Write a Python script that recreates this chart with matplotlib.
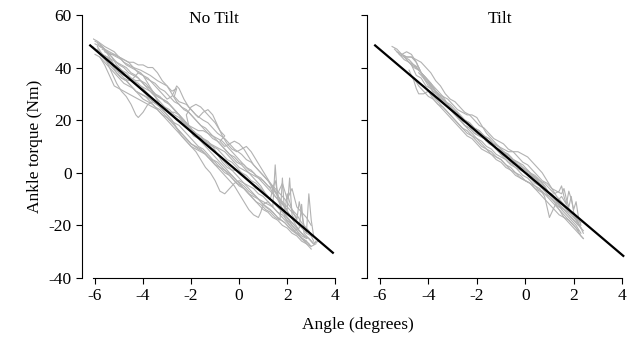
import matplotlib

matplotlib.use("Agg")
import matplotlib.pyplot as plt

plt.rcParams["font.family"] = ["Liberation Serif", "DejaVu Serif"]
plt.rcParams["font.size"] = 12.5
plt.rcParams["axes.unicode_minus"] = False

# regression line (same fit shown in both panels)
fit_x = [-6.2, 3.9]
fit_y_notilt = [48.4, -30.4]
fit_x_tilt = [-6.2, 4.05]
fit_y_tilt = [48.4, -31.6]

# individual trials, No Tilt
notilt_x = [
    [-6.1, -5.9, -5.6, -5.4, -5.2, -5.0, -4.8, -4.6, -4.4, -4.1, -3.9, -3.7, -3.4, -3.2, -3.0, -2.8, -2.6, -2.7, -2.5, -2.2, -2.0, -1.8, -1.5, -1.3, -1.1, -0.9, -0.6, -0.4, -0.2, 0.1, 0.3, 0.5, 0.8, 1.0, 1.2, 1.5, 1.7, 1.9, 2.2, 2.4, 2.6, 2.9, 3.1],
    [-5.9, -5.7, -5.5, -5.3, -5.1, -4.9, -4.7, -4.5, -4.3, -4.2, -4.0, -3.8, -3.6, -3.3, -3.0, -2.8, -2.6, -2.4, -2.2, -2.0, -1.7, -1.5, -1.3, -1.0, -0.8, -0.6, -0.3, -0.1, 0.2, 0.4, 0.7, 0.9, 1.1, 1.4, 1.6, 1.9, 2.1, 2.4, 2.6, 2.9],
    [-6.0, -5.8, -5.6, -5.4, -5.2, -5.0, -4.8, -4.6, -4.4, -4.2, -4.0, -3.8, -3.6, -3.4, -3.2, -3.0, -2.8, -2.6, -2.5, -2.3, -2.1, -1.9, -1.7, -1.5, -1.3, -1.1, -0.9, -0.7, -0.5, -0.3, -0.1, 0.1, 0.3, 0.5, 0.7, 0.9, 1.1, 1.3, 1.5, 1.7, 1.9, 2.1, 2.3, 2.5],
    [-5.8, -5.6, -5.4, -5.2, -5.0, -4.8, -4.6, -4.4, -4.2, -4.0, -3.8, -3.6, -3.4, -3.2, -3.0, -2.8, -2.6, -2.4, -2.2, -2.0, -1.8, -1.6, -1.4, -1.2, -1.0, -0.8, -0.6, -0.4, -0.2, 0.0, 0.2, 0.4, 0.6, 0.8, 1.0, 1.3, 1.6, 1.9, 2.2, 2.5, 2.8, 3.0],
    [-5.9, -5.7, -5.5, -5.3, -5.1, -4.9, -4.7, -4.5, -4.3, -4.1, -3.9, -3.7, -3.5, -3.3, -3.1, -2.9, -2.7, -2.5, -2.3, -2.1, -2.2, -2.0, -1.8, -1.6, -1.4, -1.2, -1.0, -0.8, -0.6, -0.8, -0.6, -0.4, -0.2, 0.0, 0.2, 0.4, 0.6, 0.8, 1.0, 1.2, 1.4, 1.6, 1.8, 2.0, 2.2, 2.4],
    [-6.0, -5.8, -5.6, -5.4, -5.2, -5.0, -4.8, -4.6, -4.4, -4.2, -4.0, -3.8, -3.6, -3.4, -3.2, -3.0, -2.8, -2.6, -2.4, -2.2, -2.0, -1.8, -1.6, -1.4, -1.2, -1.0, -0.8, -0.6, -0.4, -0.2, 0.0, 0.2, 0.4, 0.6, 0.8, 1.0, 1.2, 1.4, 1.6, 1.8, 2.0, 2.2, 2.4, 2.6, 2.8, 3.0, 3.2],
    [-5.7, -5.5, -5.3, -5.1, -4.9, -4.7, -4.5, -4.3, -4.1, -3.9, -3.7, -3.5, -3.3, -3.1, -2.9, -2.7, -2.5, -2.3, -2.1, -1.9, -1.7, -1.5, -1.3, -1.1, -0.9, -0.7, -0.5, -0.3, -0.1, 0.1, 0.3, 0.5, 0.7, 0.9, 1.1, 1.3, 1.4, 1.5, 1.7, 1.9, 2.0, 2.2, 2.4, 2.5, 2.7, 2.8, 2.9, 3.0, 3.1],
    [-6.0, -5.8, -5.6, -5.4, -5.2, -5.0, -4.8, -4.6, -4.4, -4.2, -4.0, -3.8, -3.6, -3.4, -3.2, -3.0, -2.8, -2.6, -2.4, -2.2, -2.0, -1.8, -1.6, -1.4, -1.2, -1.0, -0.8, -0.6, -0.4, -0.2, 0.0, 0.2, 0.4, 0.6, 0.8, 1.0, 1.2, 1.4, 1.5, 1.6, 1.8, 2.0, 2.2, 2.4, 2.6, 2.8],
    [-5.8, -5.6, -5.4, -5.2, -5.0, -4.8, -4.6, -4.4, -4.2, -4.0, -3.8, -3.6, -3.4, -3.2, -3.0, -2.8, -2.6, -2.4, -2.2, -2.0, -1.8, -1.6, -1.4, -1.2, -1.0, -0.8, -0.6, -0.4, -0.2, 0.0, 0.2, 0.4, 0.6, 0.8, 0.9, 1.0, 1.2, 1.4, 1.6, 1.8, 2.0, 2.2, 2.4, 2.6, 2.8],
    [-5.6, -5.4, -5.2, -5.0, -4.8, -4.6, -4.4, -4.2, -4.0, -3.8, -3.6, -3.4, -3.2, -3.0, -2.8, -2.6, -2.4, -2.2, -2.0, -1.8, -1.6, -1.4, -1.2, -1.0, -0.8, -0.6, -0.4, -0.2, 0.0, 0.2, 0.4, 0.6, 0.8, 1.0, 1.2, 1.4, 1.6, 1.8, 2.0, 2.2, 2.4, 2.6, 2.8, 3.0],
    [-6.1, -5.9, -5.7, -5.5, -5.3, -5.1, -4.9, -4.7, -4.5, -4.3, -4.1, -3.9, -3.7, -3.5, -3.3, -3.1, -2.9, -2.7, -2.5, -2.3, -2.1, -1.9, -1.7, -1.5, -1.3, -1.1, -0.9, -0.7, -0.5, -0.3, -0.1, 0.1, 0.3, 0.5, 0.7, 0.9, 1.1, 1.3, 1.5, 1.7, 1.9, 2.1, 2.3, 2.5, 2.7, 2.9, 3.1, 3.3],
    [-5.9, -5.7, -5.5, -5.3, -5.1, -4.9, -4.7, -4.5, -4.3, -4.1, -3.9, -3.7, -3.5, -3.3, -3.1, -2.9, -2.7, -2.5, -2.3, -2.1, -1.9, -1.7, -1.5, -1.3, -1.1, -0.9, -0.7, -0.5, -0.3, -0.1, 0.1, 0.3, 0.5, 0.7, 0.9, 1.1, 1.3, 1.5, 1.7, 1.9, 2.1, 2.3, 2.5, 2.7, 2.9, 3.1],
    [-5.8, -5.6, -5.4, -5.2, -5.0, -4.8, -4.6, -4.4, -4.2, -4.0, -3.8, -3.6, -3.4, -3.2, -3.0, -2.8, -2.6, -2.4, -2.2, -2.0, -1.8, -1.6, -1.4, -1.2, -1.0, -0.8, -0.6, -0.4, -0.2, 0.0, 0.2, 0.4, 0.6, 0.8, 1.0, 1.2, 1.4, 1.6, 1.8, 2.0, 2.1, 2.2, 2.4, 2.6, 2.8, 3.0],
    [-6.0, -5.8, -5.6, -5.4, -5.2, -5.0, -4.8, -4.6, -4.4, -4.2, -4.0, -3.8, -3.6, -3.4, -3.2, -3.0, -2.8, -2.6, -2.4, -2.2, -2.0, -1.8, -1.6, -1.4, -1.2, -1.0, -0.8, -0.6, -0.4, -0.2, 0.0, 0.2, 0.4, 0.6, 0.8, 1.0, 1.2, 1.4, 1.6, 1.8, 2.0, 2.2, 2.4, 2.6, 2.8, 3.0],
    [-5.7, -5.5, -5.3, -5.1, -4.9, -4.7, -4.5, -4.3, -4.1, -3.9, -3.7, -3.5, -3.3, -3.1, -2.9, -2.7, -2.5, -2.3, -2.1, -1.9, -1.7, -1.5, -1.3, -1.1, -0.9, -0.7, -0.5, -0.3, -0.1, 0.1, 0.3, 0.5, 0.7, 0.9, 1.1, 1.3, 1.5, 1.7, 1.9, 2.1, 2.3, 2.5, 2.7],
    [-5.5, -5.3, -5.1, -4.9, -4.7, -4.5, -4.3, -4.1, -3.9, -3.7, -3.5, -3.3, -3.1, -2.9, -2.7, -2.5, -2.3, -2.1, -1.9, -1.7, -1.5, -1.3, -1.1, -0.9, -0.7, -0.5, -0.3, -0.1, 0.1, 0.3, 0.5, 0.7, 0.9, 1.1, 1.3, 1.5, 1.7, 1.8, 1.9, 2.1, 2.3, 2.5, 2.6, 2.7, 2.9, 3.1, 3.2],
]
notilt_y = [
    [51, 50, 48, 47, 46, 44, 43, 42, 40, 39, 38, 37, 35, 34, 33, 31, 32, 29, 27, 26, 24, 22, 20, 19, 17, 15, 13, 11, 9, 7, 5, 4, 1, -1, -3, -6, -8, -10, -14, -16, -19, -22, -26],
    [48, 45, 42, 38, 34, 31, 29, 26, 22, 21, 23, 26, 27, 25, 22, 20, 17, 15, 13, 11, 9, 8, 6, 4, 2, 1, -1, -3, -5, -7, -9, -11, -13, -15, -17, -19, -21, -23, -25, -27],
    [49, 48, 47, 46, 45, 44, 42, 41, 40, 38, 37, 36, 34, 32, 30, 28, 29, 33, 32, 28, 25, 23, 21, 23, 24, 22, 18, 14, 11, 9, 8, 9, 10, 8, 5, 2, -1, -4, -7, -10, -13, -16, -18, -20],
    [46, 44, 42, 41, 40, 38, 36, 35, 33, 31, 29, 27, 26, 24, 22, 20, 17, 14, 12, 10, 8, 5, 2, 0, -3, -7, -8, -6, -4, -3, -4, -6, -8, -10, -12, -14, -17, -19, -22, -24, -26, -28],
    [47, 45, 44, 43, 42, 41, 40, 38, 37, 35, 33, 32, 30, 29, 27, 26, 24, 22, 19, 18, 22, 25, 26, 25, 23, 21, 19, 16, 14, 12, 10, 11, 12, 11, 9, 6, 3, 1, -1, -3, -6, -9, -11, -13, -15, -17],
    [45, 44, 41, 37, 33, 32, 31, 30, 29, 28, 27, 26, 25, 24, 22, 21, 19, 17, 15, 13, 11, 10, 9, 7, 5, 3, 2, 0, -1, -3, -5, -6, -8, -10, -12, -14, -15, -17, -18, -20, -21, -23, -24, -26, -27, -28, -27],
    [47, 46, 45, 44, 43, 41, 40, 39, 38, 36, 35, 34, 32, 31, 29, 27, 26, 24, 23, 21, 19, 17, 15, 13, 12, 10, 8, 6, 4, 3, 1, -1, -3, -5, -8, -10, -6, -3, -12, -15, -8, -14, -18, -11, -20, -23, -8, -18, -24],
    [50, 49, 47, 44, 41, 38, 36, 35, 36, 38, 37, 34, 31, 29, 28, 27, 25, 23, 21, 19, 16, 14, 12, 10, 8, 6, 4, 2, 0, -2, -4, -6, -8, -9, -10, -11, -12, -13, 3, -10, -14, -17, -20, -22, -24, -25],
    [44, 42, 40, 38, 36, 34, 33, 32, 30, 28, 27, 26, 24, 22, 20, 18, 16, 14, 12, 10, 9, 8, 7, 5, 3, 1, -1, -3, -5, -8, -11, -14, -16, -17, -15, -12, -11, -13, -15, -17, -19, -21, -23, -25, -26],
    [46, 45, 45, 44, 43, 42, 42, 41, 41, 40, 40, 38, 35, 33, 30, 27, 25, 24, 22, 20, 18, 17, 15, 13, 11, 9, 7, 6, 4, 3, 1, 0, -2, -3, -5, -6, -8, -4, -10, -6, -13, -15, -17, -20],
    [48, 46, 44, 42, 40, 38, 36, 35, 33, 31, 30, 29, 28, 27, 26, 25, 24, 22, 21, 19, 17, 16, 14, 13, 11, 10, 9, 7, 5, 4, 2, 0, -1, -3, -4, -6, -8, -10, -12, -14, -16, -18, -20, -22, -24, -25, -27, -26],
    [49, 48, 46, 44, 41, 39, 37, 36, 35, 35, 34, 32, 29, 26, 24, 23, 23, 22, 20, 17, 14, 13, 13, 12, 10, 7, 4, 2, 1, 1, 0, -2, -4, -6, -7, -8, -10, -12, -14, -16, -18, -20, -22, -24, -25, -27],
    [48, 47, 45, 43, 41, 40, 38, 37, 36, 34, 32, 30, 29, 28, 27, 25, 23, 21, 19, 17, 14, 13, 12, 11, 10, 9, 8, 6, 4, 2, 1, 0, -1, -2, -4, -6, -8, -10, -12, -14, -2, -16, -19, -21, -23, -24],
    [47, 46, 44, 42, 40, 38, 37, 36, 35, 34, 32, 30, 28, 26, 25, 24, 22, 20, 19, 18, 16, 15, 14, 12, 10, 8, 6, 4, 2, 0, -2, -4, -5, -6, -8, -9, -11, -13, -15, -16, -18, -20, -22, -25, -27, -29],
    [45, 44, 42, 40, 39, 38, 36, 34, 33, 32, 31, 29, 27, 25, 23, 21, 20, 19, 18, 17, 16, 16, 15, 14, 13, 12, 10, 8, 6, 4, 2, 1, -1, -2, -4, -6, -9, -11, -13, -16, -19, -22, -24],
    [44, 41, 38, 36, 35, 33, 31, 30, 29, 27, 25, 24, 22, 20, 19, 18, 16, 14, 12, 10, 9, 7, 5, 4, 2, 0, -2, -4, -5, -7, -9, -11, -12, -14, -15, -17, -18, -2, -17, -20, -22, -21, -12, -23, -25, -27, -26],
]

# individual trials, Tilt
tilt_x = [
    [-5.5, -5.3, -5.1, -4.9, -4.7, -4.5, -4.3, -4.1, -3.9, -3.7, -3.5, -3.3, -3.1, -2.9, -2.7, -2.5, -2.3, -2.1, -1.9, -1.7, -1.5, -1.3, -1.1, -0.9, -0.7, -0.5, -0.3, -0.1, 0.1, 0.3, 0.5, 0.7, 0.9, 1.1, 1.3, 1.5, 1.7, 1.9, 2.1, 2.3],
    [-5.2, -5.0, -4.8, -4.6, -4.4, -4.2, -4.0, -3.8, -3.6, -3.4, -3.2, -3.0, -2.8, -2.6, -2.4, -2.2, -2.0, -1.8, -1.6, -1.4, -1.2, -1.0, -0.8, -0.6, -0.4, -0.2, 0.0, 0.2, 0.4, 0.6, 0.8, 1.0, 1.2, 1.4, 1.6, 1.8, 2.0, 2.2, 2.4],
    [-4.9, -4.7, -4.5, -4.3, -4.1, -3.9, -3.7, -3.5, -3.3, -3.1, -2.9, -2.7, -2.5, -2.3, -2.1, -1.9, -1.7, -1.5, -1.3, -1.1, -0.9, -0.7, -0.5, -0.3, -0.1, 0.1, 0.3, 0.5, 0.7, 0.9, 1.1, 1.3, 1.5, 1.7, 1.9, 2.1, 2.3],
    [-4.6, -4.4, -4.2, -4.0, -3.8, -3.6, -3.4, -3.2, -3.0, -2.8, -2.6, -2.4, -2.2, -2.0, -1.8, -1.6, -1.4, -1.2, -1.0, -0.8, -0.6, -0.4, -0.2, 0.0, 0.2, 0.4, 0.6, 0.8, 0.9, 1.0, 1.1, 1.3, 1.5, 1.7, 1.9, 2.1, 2.3],
    [-4.8, -4.6, -4.5, -4.4, -4.2, -4.0, -3.8, -3.6, -3.4, -3.2, -3.0, -2.8, -2.6, -2.4, -2.2, -2.0, -1.8, -1.6, -1.4, -1.2, -1.0, -0.8, -0.6, -0.4, -0.2, 0.0, 0.2, 0.4, 0.6, 0.8, 1.0, 1.2, 1.4, 1.6, 1.8, 2.0, 2.2, 2.4],
    [-5.4, -5.2, -5.0, -4.8, -4.6, -4.4, -4.2, -4.0, -3.8, -3.6, -3.4, -3.2, -3.0, -2.8, -2.6, -2.4, -2.2, -2.0, -1.8, -1.6, -1.4, -1.2, -1.0, -0.8, -0.6, -0.4, -0.2, 0.0, 0.2, 0.4, 0.6, 0.8, 1.0, 1.2, 1.4, 1.5, 1.6, 1.7, 1.8, 1.9, 2.0, 2.1, 2.2, 2.3],
    [-5.0, -4.8, -4.6, -4.4, -4.2, -4.0, -3.8, -3.6, -3.4, -3.2, -3.0, -2.8, -2.6, -2.4, -2.2, -2.0, -1.8, -1.6, -1.4, -1.2, -1.0, -0.8, -0.6, -0.4, -0.2, 0.0, 0.2, 0.4, 0.6, 0.8, 1.0, 1.2, 1.4, 1.6, 1.8, 2.0, 2.2],
    [-4.5, -4.3, -4.1, -3.9, -3.7, -3.5, -3.3, -3.1, -2.9, -2.7, -2.5, -2.3, -2.1, -1.9, -1.7, -1.5, -1.3, -1.1, -0.9, -0.7, -0.5, -0.3, -0.1, 0.1, 0.3, 0.5, 0.7, 0.9, 1.1, 1.3, 1.5, 1.7, 1.9, 2.1, 2.3, 2.4],
    [-5.3, -5.1, -4.9, -4.7, -4.5, -4.3, -4.1, -3.9, -3.7, -3.5, -3.3, -3.1, -2.9, -2.7, -2.5, -2.3, -2.1, -1.9, -1.7, -1.5, -1.3, -1.1, -0.9, -0.7, -0.5, -0.3, -0.1, 0.1, 0.3, 0.5, 0.7, 0.9, 1.1, 1.3, 1.5, 1.7, 1.9, 2.1],
    [-4.4, -4.2, -4.0, -3.8, -3.6, -3.4, -3.2, -3.0, -2.8, -2.6, -2.4, -2.2, -2.0, -1.8, -1.6, -1.4, -1.2, -1.0, -0.8, -0.6, -0.4, -0.2, 0.0, 0.2, 0.4, 0.6, 0.8, 1.0, 1.2, 1.4, 1.6, 1.8, 2.0, 2.2, 2.4],
    [-5.1, -4.9, -4.7, -4.5, -4.3, -4.1, -3.9, -3.7, -3.5, -3.3, -3.1, -2.9, -2.7, -2.5, -2.3, -2.1, -1.9, -1.7, -1.5, -1.3, -1.1, -0.9, -0.7, -0.5, -0.3, -0.1, 0.1, 0.3, 0.5, 0.7, 0.9, 1.1, 1.3, 1.5, 1.6, 1.7, 1.8, 1.9, 2.0, 2.2],
    [-4.2, -4.0, -3.8, -3.6, -3.4, -3.2, -3.0, -2.8, -2.6, -2.4, -2.2, -2.0, -1.8, -1.6, -1.4, -1.2, -1.0, -0.8, -0.6, -0.4, -0.2, 0.0, 0.2, 0.4, 0.6, 0.8, 1.0, 1.2, 1.4, 1.6, 1.8, 2.0, 2.2],
    [-4.7, -4.5, -4.3, -4.1, -3.9, -3.7, -3.5, -3.3, -3.1, -2.9, -2.7, -2.5, -2.3, -2.1, -1.9, -1.7, -1.5, -1.3, -1.1, -0.9, -0.7, -0.5, -0.3, -0.1, 0.1, 0.3, 0.5, 0.7, 0.9, 1.1, 1.3, 1.5, 1.7, 1.9, 2.1, 2.3],
]
tilt_y = [
    [48, 47, 45, 44, 44, 42, 38, 35, 33, 31, 29, 27, 26, 24, 22, 20, 19, 17, 16, 14, 13, 11, 10, 8, 7, 5, 4, 2, 0, -1, -3, -5, -7, -9, -11, -12, -14, -16, -18, -21],
    [45, 44, 43, 41, 39, 37, 35, 33, 31, 29, 28, 26, 24, 23, 22, 22, 21, 18, 15, 13, 11, 9, 7, 6, 4, 2, 0, -2, -4, -5, -7, -9, -11, -13, -14, -16, -18, -20, -22],
    [43, 41, 40, 38, 36, 33, 31, 29, 27, 25, 23, 21, 20, 18, 17, 16, 14, 13, 11, 10, 9, 8, 8, 8, 7, 6, 4, 2, 0, -3, -6, -9, -11, -13, -15, -17, -19],
    [36, 33, 31, 29, 28, 26, 25, 23, 21, 19, 17, 15, 14, 12, 10, 9, 7, 5, 4, 2, 1, -1, -2, -3, -4, -5, -6, -9, -13, -17, -15, -11, -9, -12, -15, -18, -21],
    [39, 35, 32, 30, 30, 31, 29, 27, 25, 23, 21, 19, 17, 16, 14, 13, 11, 9, 8, 6, 5, 3, 2, 0, -1, -3, -4, -6, -7, -8, -9, -11, -14, -17, -19, -21, -23, -25],
    [47, 45, 43, 42, 40, 39, 37, 35, 32, 30, 28, 26, 24, 22, 20, 19, 17, 15, 14, 12, 11, 9, 8, 6, 5, 3, 2, 0, -1, -2, -3, -4, -6, -8, -7, -5, -9, -12, -7, -10, -14, -11, -17, -20],
    [44, 42, 41, 40, 36, 34, 31, 30, 29, 26, 24, 23, 21, 19, 17, 16, 14, 12, 11, 9, 7, 6, 4, 3, 2, 1, 0, -1, -3, -5, -8, -10, -12, -14, -16, -18, -20],
    [40, 38, 36, 34, 31, 28, 26, 24, 22, 20, 18, 17, 15, 14, 13, 11, 10, 8, 6, 4, 3, 1, -1, -2, -4, -6, -7, -9, -11, -13, -15, -17, -19, -21, -24, -25],
    [46, 45, 46, 45, 42, 38, 36, 34, 31, 29, 27, 25, 23, 22, 20, 19, 17, 15, 14, 12, 11, 10, 8, 7, 5, 4, 3, 1, -1, -3, -5, -7, -8, -10, -12, -13, -15, -17],
    [38, 36, 33, 31, 29, 27, 25, 23, 21, 19, 17, 15, 13, 12, 10, 9, 7, 6, 5, 3, 2, 1, 0, -1, -2, -3, -5, -8, -10, -12, -14, -15, -16, -19, -23],
    [45, 44, 44, 43, 42, 40, 38, 35, 33, 30, 28, 27, 25, 23, 22, 20, 18, 17, 15, 13, 12, 11, 9, 8, 6, 4, 3, 1, -1, -3, -4, -6, -7, -8, -6, -10, -13, -9, -15, -19],
    [33, 31, 28, 26, 24, 22, 20, 18, 16, 14, 13, 11, 9, 8, 7, 6, 5, 3, 1, 0, -2, -3, -4, -6, -8, -10, -12, -14, -16, -17, -18, -20, -22],
    [41, 37, 36, 33, 32, 29, 28, 26, 24, 23, 21, 18, 17, 15, 14, 13, 12, 10, 9, 8, 6, 5, 3, 2, 1, -1, -2, -4, -7, -9, -11, -14, -16, -18, -20, -23],
]

titles = ["No Tilt", "Tilt"]
yticks = [-40, -20, 0, 20, 40, 60]
xticks = [-6, -4, -2, 0, 2, 4]

fig = plt.figure(figsize=(6.29, 3.39), dpi=100)
ax1 = fig.add_axes([0.148, 0.180, 0.385, 0.776])
ax2 = fig.add_axes([0.601, 0.180, 0.388, 0.776])

panels = [
    (ax1, notilt_x, notilt_y, fit_x, fit_y_notilt),
    (ax2, tilt_x, tilt_y, fit_x_tilt, fit_y_tilt),
]
for i, (ax, xs, ys, fx, fy) in enumerate(panels):
    for tx, ty in zip(xs, ys):
        ax.plot(tx, ty, color="#b2b2b2", lw=0.8, zorder=1)
    ax.plot(fx, fy, color="black", lw=1.6, zorder=2, clip_on=False)
    ax.set_xlim(-6.08, 4)
    ax.set_ylim(-40, 60)
    ax.set_xticks(xticks)
    ax.set_yticks(yticks)
    ax.spines["top"].set_visible(False)
    ax.spines["right"].set_visible(False)
    ax.spines["left"].set_position(("outward", 8))
    ax.tick_params(direction="out", length=4, width=0.8, labelsize=12.5)
    ax.text(0.5, 0.985, titles[i], transform=ax.transAxes,
            ha="center", va="center", fontsize=12.5)
    if i == 1:
        ax.set_yticklabels([])

ax1.set_ylabel("Ankle torque (Nm)", fontsize=12.5)
fig.text(0.569, 0.04, "Angle (degrees)", ha="center", va="center", fontsize=12.5)

fig.savefig("out.png", dpi=100)
